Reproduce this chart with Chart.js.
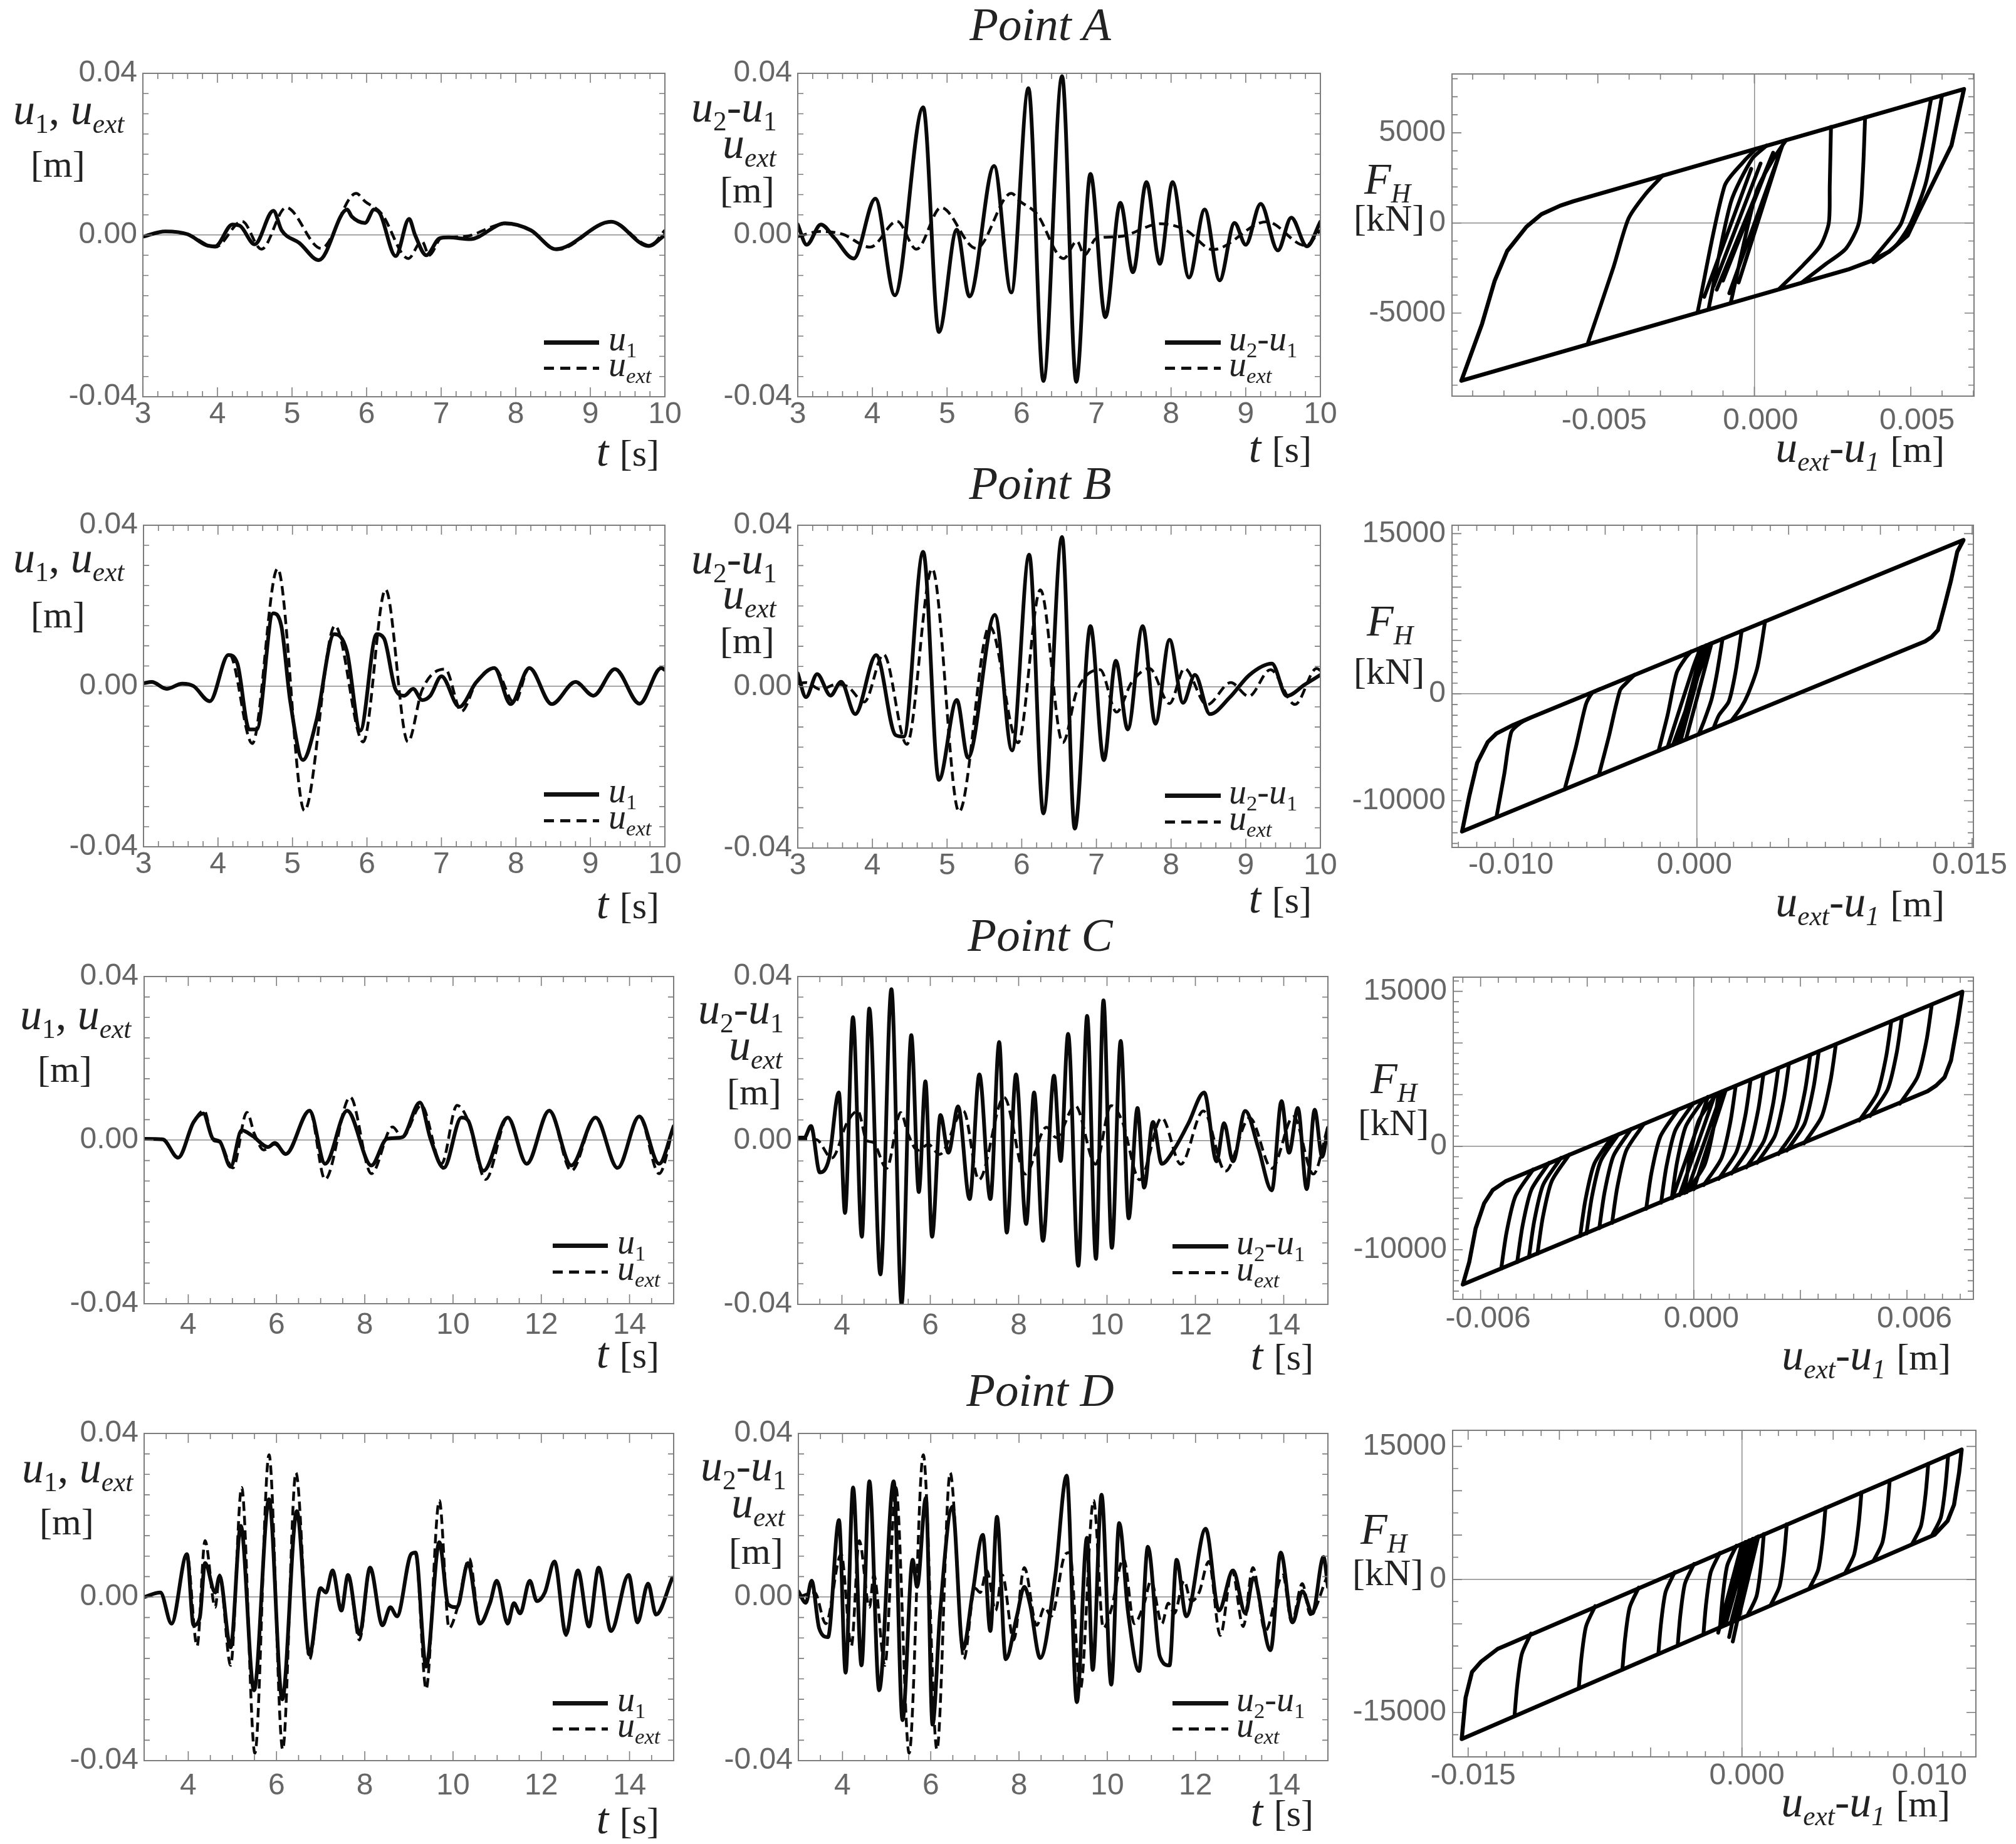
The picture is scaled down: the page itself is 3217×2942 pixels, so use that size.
<!DOCTYPE html>
<html>
<head>
<meta charset="utf-8">
<title>Points A-D</title>
<script src="https://cdn.jsdelivr.net/npm/chart.js@4.4.1/dist/chart.umd.min.js"></script>
<style>
html,body{margin:0;padding:0;background:#fff;}
#root{position:relative;width:3217px;height:2942px;overflow:hidden;background:#fff;}
.pc{position:absolute;}
.tx{position:absolute;font-family:"Liberation Serif","Times New Roman",serif;color:#222;line-height:1;white-space:nowrap;font-size:70px;z-index:5;}
.tx i{font-style:italic;}
.sb{font-size:0.62em;position:relative;top:0.32em;}
.un{font-size:0.857em;}
.u60{font-size:60px;}
.ttl{font-size:75px;font-style:italic;text-align:center;width:600px;}
.lg{font-size:56px;}
.ln{position:absolute;z-index:5;}
</style>
</head>
<body>
<div id="root"></div>
<script>
// ---------------- DATA ----------------
// tick labels
const TICKS_T_AB = [3,4,5,6,7,8,9,10];
const TICKS_T_CD = [4,6,8,10,12,14];
const TICKS_U = [-0.04, 0, 0.04];
const TICKS_XA = [-0.005, 0, 0.005];
const TICKS_FA = [-5000, 0, 5000];
const TICKS_XB = [-0.01, 0, 0.015];
const TICKS_FB = [-10000, 0, 15000];
const TICKS_XC = [-0.006, 0, 0.006];
const TICKS_FC = [-10000, 0, 15000];
const TICKS_XD = [-0.015, 0, 0.01];
const TICKS_FD = [-15000, 0, 15000];

// Point A  [t (s), displacement (m)]
const A_u1 = [[3,-0.0004],[3.3,0.0009],[3.6,0.0002],[3.85,-0.0025],[3.97,-0.0028],[4.2,0.0026],[4.3,0.0023],[4.5,-0.0023],[4.75,0.006],[4.86,0.0012],[5.1,-0.002],[5.36,-0.0062],[5.74,0.0063],[5.8,0.0046],[5.98,0.003],[6.1,0.0063],[6.18,0.0053],[6.39,-0.0052],[6.57,0.004],[6.65,0.0],[6.8,-0.005],[6.98,-0.0008],[7.1,-0.0006],[7.39,-0.001],[7.86,0.0029],[8.2,0.0012],[8.54,-0.0035],[9.28,0.0033],[9.78,-0.0027],[10,0.0]];
const A_uext = [[3,-0.0004],[3.3,0.0009],[3.6,0.0002],[3.97,-0.003],[4.33,0.0034],[4.59,-0.0035],[4.92,0.0068],[5.39,-0.0033],[5.86,0.0103],[5.98,0.0083],[6.2,0.0053],[6.56,-0.0058],[6.74,-0.0015],[6.84,-0.005],[7.0,-0.0008],[7.3,-0.0004],[7.86,0.0028],[8.2,0.0012],[8.56,-0.0036],[9.28,0.0033],[9.8,-0.0026],[10,0.0012]];
const A_u21 = [[3,0.0026],[3.12,-0.0024],[3.31,0.0026],[3.49,-0.0007],[3.75,-0.0058],[4.04,0.009],[4.3,-0.0149],[4.68,0.0316],[4.89,-0.024],[5.13,0.0013],[5.3,-0.0152],[5.63,0.0171],[5.86,-0.0142],[6.09,0.0363],[6.29,-0.0361],[6.54,0.0393],[6.73,-0.0363],[6.92,0.0151],[7.12,-0.0203],[7.32,0.008],[7.49,-0.0092],[7.67,0.0131],[7.85,-0.0071],[8.02,0.0131],[8.24,-0.0105],[8.45,0.0063],[8.65,-0.0112],[8.85,0.003],[9.0,-0.0024],[9.2,0.0077],[9.43,-0.0038],[9.61,0.0043],[9.82,-0.0028],[10,0.0033]];

// Point B
const B_u1 = [[3,0.0007],[3.11,0.001],[3.31,-0.0007],[3.52,0.0006],[3.67,0],[3.89,-0.0038],[4.14,0.0077],[4.26,0.0056],[4.42,-0.0108],[4.52,-0.0108],[4.74,0.0181],[4.85,0.015],[4.97,-0.0038],[5.14,-0.0184],[5.32,-0.0087],[5.56,0.0129],[5.73,0.0087],[5.91,-0.0111],[6.13,0.0129],[6.23,0.0118],[6.38,-0.0007],[6.5,-0.0024],[6.62,-0.0007],[6.74,-0.0035],[6.85,-0.0024],[7.0,0.0024],[7.24,-0.0052],[7.47,0.001],[7.71,0.0045],[7.93,-0.0045],[8.18,0.0045],[8.48,-0.0045],[8.8,0.001],[9.04,-0.0024],[9.33,0.0042],[9.66,-0.0044],[9.95,0.0045],[10,0.004]];
const B_uext = [[3,0.0007],[3.11,0.001],[3.31,-0.0007],[3.52,0.0006],[3.67,0],[3.89,-0.0038],[4.15,0.008],[4.46,-0.0143],[4.8,0.0292],[5.16,-0.031],[5.57,0.015],[5.95,-0.0139],[6.25,0.024],[6.55,-0.0139],[6.74,-0.001],[7.05,0.0042],[7.27,-0.0063],[7.47,0.001],[7.71,0.0045],[7.98,-0.0042],[8.18,0.0045],[8.48,-0.0045],[8.8,0.001],[9.04,-0.0024],[9.33,0.0042],[9.66,-0.0044],[9.95,0.0045],[10,0.004]];
const B_u21 = [[3,0.0033],[3.11,-0.0026],[3.26,0.0031],[3.44,-0.0022],[3.58,0.0012],[3.77,-0.0068],[4.05,0.0078],[4.31,-0.012],[4.42,-0.0124],[4.68,0.0334],[4.89,-0.0231],[5.13,-0.0033],[5.28,-0.0176],[5.64,0.0178],[5.87,-0.0158],[6.1,0.0327],[6.29,-0.0314],[6.54,0.0371],[6.71,-0.0352],[6.92,0.015],[7.1,-0.0182],[7.26,0.0064],[7.42,-0.0106],[7.62,0.015],[7.79,-0.0092],[7.98,0.0116],[8.16,-0.004],[8.32,0.0029],[8.52,-0.0068],[8.79,-0.0026],[9.05,0.0029],[9.35,0.0057],[9.55,-0.0023],[9.79,0.0005],[10,0.0029]];

// Point C
const C_u1 = [[3,0.0003],[3.42,0.0002],[3.77,-0.0043],[4.12,0.0044],[4.34,0.0065],[4.56,0.0003],[4.71,-0.0003],[4.96,-0.0065],[5.21,0.0024],[5.46,0.001],[5.81,-0.0017],[5.96,-0.0007],[6.21,-0.0034],[6.75,0.0072],[7.1,-0.0058],[7.6,0.0072],[8.15,-0.0062],[8.5,0.0003],[8.85,0.0007],[9.25,0.0092],[9.49,0.0003],[9.79,-0.0068],[10.19,0.0055],[10.34,0.0048],[10.69,-0.0075],[11.24,0.0055],[11.67,-0.0058],[12.18,0.0072],[12.68,-0.0062],[13.23,0.0055],[13.73,-0.0068],[14.22,0.0058],[14.67,-0.0058],[15,0.0034]];
const C_uext = [[3,0.0003],[3.42,0.0002],[3.77,-0.0043],[4.12,0.0044],[4.36,0.0072],[4.56,0.0],[4.71,-0.0005],[5.01,-0.0068],[5.33,0.0068],[5.5,0.0015],[5.71,-0.0024],[5.96,-0.001],[6.21,-0.0034],[6.75,0.0072],[7.1,-0.0096],[7.67,0.0105],[8.15,-0.0082],[8.63,0.0032],[8.85,0.0007],[9.28,0.0085],[9.74,-0.0058],[10.09,0.0085],[10.34,0.0048],[10.74,-0.0096],[11.24,0.0055],[11.67,-0.0058],[12.18,0.0072],[12.68,-0.0075],[13.23,0.0055],[13.73,-0.0068],[14.22,0.0058],[14.67,-0.0082],[15,0.0034]];
const C_u21 = [[3,0.0007],[3.15,0.0007],[3.3,0.0035],[3.5,-0.0078],[3.71,-0.0044],[3.93,0.0117],[4.07,-0.0177],[4.25,0.0301],[4.45,-0.0235],[4.62,0.0322],[4.87,-0.0327],[5.12,0.0369],[5.35,-0.0399],[5.57,0.0257],[5.74,-0.0126],[5.89,0.0144],[6.04,-0.0235],[6.23,0.0062],[6.41,-0.003],[6.63,0.0083],[6.89,-0.0143],[7.11,0.0161],[7.36,-0.0143],[7.56,0.024],[7.73,-0.0225],[7.94,0.0161],[8.17,-0.0204],[8.35,0.0117],[8.55,-0.0245],[8.8,0.0158],[8.95,-0.005],[9.12,0.026],[9.35,-0.0306],[9.55,0.0304],[9.75,-0.0289],[9.92,0.0342],[10.11,-0.0262],[10.31,0.0243],[10.49,-0.019],[10.69,0.0079],[10.84,-0.0115],[11.04,0.0045],[11.24,-0.0057],[11.49,-0.0027],[11.84,0.0041],[12.2,0.0117],[12.48,-0.0051],[12.65,0.0042],[12.85,-0.0051],[13.13,0.0072],[13.43,-0.002],[13.73,-0.0122],[13.95,0.0096],[14.12,-0.003],[14.32,0.0079],[14.52,-0.0119],[14.7,0.0075],[14.87,-0.004],[15,0.0031]];

// Point D
const D_u1 = [[3,0],[3.37,0.0011],[3.62,-0.0065],[3.97,0.0105],[4.12,-0.0069],[4.26,-0.0051],[4.38,0.0083],[4.61,0.0011],[4.71,0.0051],[4.96,-0.0123],[5.19,0.0174],[5.49,-0.0228],[5.83,0.0239],[6.13,-0.025],[6.46,0.021],[6.75,-0.0141],[7.0,0.0022],[7.12,0.0011],[7.27,0.0065],[7.47,-0.0033],[7.62,0.0054],[7.88,-0.0091],[8.12,0.0072],[8.4,-0.0069],[8.58,-0.0025],[8.73,-0.0047],[9.05,0.0105],[9.15,0.0109],[9.39,-0.017],[9.69,0.0134],[9.89,-0.0018],[10.09,-0.0025],[10.34,0.0083],[10.61,-0.0065],[10.84,-0.0014],[10.99,0.004],[11.24,-0.0065],[11.38,-0.0015],[11.52,-0.004],[11.74,0.004],[11.9,-0.001],[12.08,0.0011],[12.3,0.0087],[12.56,-0.0091],[12.83,0.0065],[13.08,-0.0072],[13.3,0.0072],[13.58,-0.0083],[13.98,0.0054],[14.18,-0.0062],[14.42,0.0033],[14.6,-0.0043],[14.97,0.0047]];
const D_uext = [[3,0],[3.37,0.0011],[3.62,-0.0065],[3.97,0.0105],[4.2,-0.012],[4.38,0.0138],[4.61,-0.0025],[4.71,0.0054],[4.96,-0.0167],[5.21,0.0268],[5.51,-0.0382],[5.83,0.0348],[6.14,-0.0373],[6.44,0.0304],[6.75,-0.0152],[7.0,0.0022],[7.12,0.0011],[7.27,0.0065],[7.47,-0.0033],[7.62,0.0054],[7.88,-0.0105],[8.12,0.0072],[8.4,-0.0069],[8.58,-0.0025],[8.73,-0.0047],[9.05,0.0105],[9.15,0.0109],[9.39,-0.0225],[9.69,0.0236],[9.91,-0.0076],[10.09,-0.003],[10.37,0.0094],[10.61,-0.0065],[10.84,-0.0014],[10.99,0.004],[11.24,-0.0065],[11.38,-0.0015],[11.52,-0.004],[11.74,0.004],[11.9,-0.001],[12.08,0.0011],[12.3,0.0087],[12.56,-0.0094],[12.83,0.0065],[13.08,-0.0072],[13.3,0.0072],[13.58,-0.0083],[13.98,0.0054],[14.18,-0.0062],[14.42,0.0033],[14.6,-0.0043],[14.97,0.0047]];
const D_u21 = [[3,0.0014],[3.17,-0.0014],[3.3,0.004],[3.47,-0.0076],[3.67,-0.0098],[3.92,0.0188],[4.07,-0.0185],[4.24,0.0268],[4.43,-0.0167],[4.61,0.0283],[4.83,-0.0228],[5.16,0.0283],[5.36,-0.0301],[5.59,0.0091],[5.69,0.0025],[5.89,0.0243],[6.04,-0.0312],[6.21,-0.004],[6.49,0.0221],[6.73,-0.0127],[6.95,0.0011],[7.18,0.0152],[7.35,-0.0083],[7.5,0.0196],[7.7,-0.0152],[7.95,-0.0047],[8.12,0.0025],[8.25,-0.0018],[8.48,-0.0149],[8.82,0.0051],[9.08,0.0297],[9.31,-0.0257],[9.54,0.0145],[9.67,-0.0178],[9.87,0.025],[10.09,-0.0214],[10.27,0.0181],[10.47,-0.0036],[10.72,-0.0181],[10.92,0.0123],[11.19,-0.0145],[11.41,-0.0167],[11.57,0.0091],[11.79,-0.0047],[12.23,0.0167],[12.53,-0.0033],[12.85,0.0065],[13.13,-0.004],[13.31,0.0047],[13.7,-0.013],[13.93,0.0109],[14.2,-0.0062],[14.42,0.0014],[14.65,-0.004],[14.9,0.0098],[15,0.0025]];

// Hysteresis  [u_ext-u1 (m), F_H (kN)], null = pen up
const A_loop = [[-0.00936,-8750],[-0.0087,-5600],[-0.0083,-3229],[-0.0079,-1562],[-0.00728,-208],[-0.0068,486],[-0.0062,960],[-0.00578,1200],[0.0067,7430],[0.0063,4300],[0.00524,556],[0.0049,-700],[0.0043,-1600],[0.00374,-2100],[0.003,-2580],[-0.00936,-8750]];
const A_inner = [
 [-0.00531,-6620],[-0.0045,-2450],[-0.00402,243],[-0.00348,1597],[-0.00292,2640], null,
 [-0.00181,-4930],[-0.00095,2051],[-0.00034,3408],[0.00007,4130], null,
 [-0.00146,-4750],[-0.00075,1146],[-0.00007,3559],[0.0004,4300], null,
 [-0.00075,-4400],[0.00007,1750],[0.00061,3559],[0.00102,4600], null,
 [-0.0012,-3700],[0.0006,3900], null,
 [-0.0008,-3900],[0.0009,4300], null,
 [-0.001,-3200],[0.0004,3000], null,
 [-0.0005,-3300],[0.0008,3800], null,
 [-0.0013,-3500],[0.0002,3300], null,
 [-0.0016,-4100],[-0.0001,3000], null,
 [0.00245,5330],[0.00241,2050],[0.00238,0],[0.00211,-1267],[0.00157,-2322],[0.0008,-3650], null,
 [0.00354,5860],[0.00347,2805],[0.00334,0],[0.00293,-1418],[0.00225,-2322],[0.0015,-3330], null,
 [0.00565,6900],[0.00525,3257],[0.0047,0],[0.00429,-965],[0.00374,-2100], null,
 [0.006,7080],[0.0055,2350],[0.005,0],[0.0045,-1300],[0.0038,-2180]
];
const B_loop = [[-0.0128,-12880],[-0.0124,-9500],[-0.01198,-6466],[-0.0114,-4503],[-0.01093,-3717],[-0.01,-2900],[-0.00907,-2224],[0.01453,14400],[0.01419,13298],[0.01384,10550],[0.01349,8194],[0.01314,5969],[0.01279,5314],[0.01244,4921],[-0.0128,-12880]];
const B_inner = [
 [-0.01093,-11560],[-0.0105,-7500],[-0.01012,-3586],[-0.0096,-2700],[-0.009,-2175], null,
 [-0.00721,-8940],[-0.0066,-5000],[-0.00605,-969],[-0.0057,100],[-0.0053,441], null,
 [-0.00535,-7628],[-0.0048,-4000],[-0.00419,340],[-0.0038,1100],[-0.0034,1784], null,
 [-0.00209,-5330],[-0.0016,-2000],[-0.0011,2000],[-0.0006,3400],[-0.0003,3976], null,
 [-0.0013,-4773],[0.0007,4683], null,
 [-0.0009,-4490],[0.0005,4540], null,
 [-0.0006,-4279],[0.0008,4754], null,
 [-0.0011,-4632],[0.0003,4400], null,
 [-0.0016,-4984],[-0.0002,2500],[0.0002,4329], null,
 [0.00372,6818],[0.0033,2500],[0.00279,0],[0.0024,-1300],[0.00186,-2545], null,
 [0.00244,5913],[0.0021,2000],[0.00174,-707],[0.0012,-2000],[0.0009,-3221], null,
 [0.0014,5178],[0.0011,2000],[0.0008,-500],[0.0004,-2500],[0.0001,-3786]
];
const C_loop = [[-0.0065,-13360],[-0.00632,-11192],[-0.00614,-7940],[-0.0059,-5500],[-0.00566,-4228],[-0.0053,-3388],[0.00756,14959],[0.00742,11843],[0.00724,8320],[0.00706,6694],[0.00682,5881],[0.00658,5339],[-0.0065,-13360]];
const C_inner = [
 [-0.00542,-11829],[-0.00527,-8329],[-0.00502,-4829],[-0.00452,-2229], null,
 [-0.00497,-11191],[-0.00482,-7691],[-0.00457,-4191],[-0.00407,-1591], null,
 [-0.00464,-10723],[-0.00449,-7223],[-0.00424,-3723],[-0.00374,-1123], null,
 [-0.0044,-10383],[-0.00425,-6883],[-0.004,-3383],[-0.0035,-783], null,
 [-0.0032,-8682],[-0.00305,-5182],[-0.0028,-1682],[-0.0023,918], null,
 [-0.00302,-8427],[-0.00287,-4927],[-0.00262,-1427],[-0.00212,1173], null,
 [-0.00266,-7917],[-0.00251,-4417],[-0.00226,-917],[-0.00176,1683], null,
 [-0.0023,-7406],[-0.00215,-3906],[-0.0019,-406],[-0.0014,2194], null,
 [-0.00134,-6045],[-0.00119,-2545],[-0.00094,955],[-0.00044,3555], null,
 [-0.00092,-5450],[-0.00077,-1950],[-0.00052,1550],[-0.00002,4150], null,
 [-0.00062,-5025],[-0.00047,-1525],[-0.00022,1975],[0.00028,4575], null,
 [-0.00026,-4515],[-0.00011,-1015],[0.00014,2485],[0.00064,5085], null,
 [0.0007,5172],[0.00055,1672],[0.0003,-1828],[-0.0002,-4428], null,
 [0.00118,5857],[0.00103,2357],[0.00078,-1143],[0.00028,-3743], null,
 [0.0016,6456],[0.00145,2956],[0.0012,-544],[0.0007,-3144], null,
 [0.00196,6970],[0.00181,3470],[0.00156,-30],[0.00106,-2630], null,
 [0.00238,7569],[0.00223,4069],[0.00198,569],[0.00148,-2031], null,
 [0.00268,7997],[0.00253,4497],[0.00228,997],[0.00178,-1603], null,
 [0.00328,8854],[0.00313,5354],[0.00288,1854],[0.00238,-746], null,
 [0.00352,9196],[0.00337,5696],[0.00312,2196],[0.00262,-404], null,
 [0.004,9881],[0.00385,6381],[0.0036,2881],[0.0031,281], null,
 [0.00556,12107],[0.00541,8607],[0.00516,5107],[0.00466,2507], null,
 [0.00586,12535],[0.00571,9035],[0.00546,5535],[0.00496,2935], null,
 [0.0067,13734],[0.00655,10234],[0.0063,6734],[0.0058,4134], null,
 [-0.0004,-4713],[0.0006,5029], null,
 [0.0,-4146],[0.0009,5457], null,
 [-0.0002,-4430],[0.0008,5315], null,
 [-0.0006,-5000],[0.0004,4800]
];
const D_loop = [[-0.01535,-17980],[-0.01514,-13340],[-0.01479,-10440],[-0.0143,-9280],[-0.01338,-7830],[0.01204,14645],[0.0119,12035],[0.01162,8410],[0.01127,6600],[0.01056,5054],[-0.01535,-17980]];
const D_inner = [
 [-0.01246,-15411],[-0.01231,-11911],[-0.01206,-8411],[-0.01156,-6100], null,
 [-0.00894,-12282],[-0.00879,-8782],[-0.00854,-5282],[-0.00804,-3007], null,
 [-0.00655,-10157],[-0.0064,-6657],[-0.00615,-3157],[-0.00565,-906], null,
 [-0.00458,-8406],[-0.00443,-4906],[-0.00418,-1406],[-0.00368,825], null,
 [-0.00352,-7463],[-0.00337,-3963],[-0.00312,-463],[-0.00262,1757], null,
 [-0.00211,-6210],[-0.00196,-2710],[-0.00171,790],[-0.00121,2996], null,
 [-0.0012,-5401],[-0.00105,-1901],[-0.0008,1599],[-0.0003,3796], null,
 [-0.0009,-5134],[0.0004,4412], null,
 [-0.0006,-4867],[0.0006,4587], null,
 [-0.0004,-4690],[0.0008,4763], null,
 [-0.0011,-5312],[0.0002,4236], null,
 [-0.0002,-4512],[0.0009,4851], null,
 [-0.0007,-6500],[0.0003,3000], null,
 [-0.0013,-6000],[0.0,4000], null,
 [-0.0005,-7000],[0.0005,2500], null,
 [0.0012,5115],[0.00105,1615],[0.0008,-1885],[0.0003,-4067], null,
 [0.00246,6222],[0.00231,2722],[0.00206,-778],[0.00156,-2947], null,
 [0.00458,8086],[0.00443,4586],[0.00418,1086],[0.00368,-1063], null,
 [0.00655,9818],[0.0064,6318],[0.00615,2818],[0.00565,689], null,
 [0.0081,11180],[0.00795,7680],[0.0077,4180],[0.0072,2067], null,
 [0.01021,13035],[0.01006,9535],[0.00981,6035],[0.00931,3943], null,
 [0.0113,13993],[0.01115,10493],[0.0109,6993],[0.0104,4912]
];

// ---------------- LAYOUT / STYLE ----------------
const PADL = 260, PADR = 90, PADT = 40, PADB = 90;
const root = document.getElementById('root');
const TICK_FONT = {family: '"Liberation Sans", Arial, Helvetica, sans-serif', size: 48};

const toXY = arr => arr.map(p => p ? {x: p[0], y: p[1]} : {x: null, y: null});

const frameTicks = {
  id: 'frameTicks',
  afterDatasetsDraw(chart, args, o) {
    const {ctx, chartArea: a} = chart;
    const xs = chart.scales.x, ys = chart.scales.y;
    ctx.save();
    ctx.strokeStyle = '#7d7d7d';
    ctx.lineWidth = 2;
    ctx.strokeRect(a.left, a.top, a.right - a.left, a.bottom - a.top);
    ctx.lineWidth = 1.6;
    const drawSet = (scale, step, major, horiz) => {
      const k0 = Math.ceil(scale.min / step - 1e-6), k1 = Math.floor(scale.max / step + 1e-6);
      for (let k = k0; k <= k1; k++) {
        const v = k * step;
        const r = v / major;
        const isMaj = Math.abs(r - Math.round(r)) < 1e-6;
        const len = isMaj ? 15 : 9;
        const p = scale.getPixelForValue(v);
        ctx.beginPath();
        if (horiz) {
          ctx.moveTo(p, a.bottom); ctx.lineTo(p, a.bottom - len);
          ctx.moveTo(p, a.top); ctx.lineTo(p, a.top + len);
        } else {
          ctx.moveTo(a.left, p); ctx.lineTo(a.left + len, p);
          ctx.moveTo(a.right, p); ctx.lineTo(a.right - len, p);
        }
        ctx.stroke();
      }
    };
    drawSet(xs, o.xStep, o.xMajor, true);
    drawSet(ys, o.yStep, o.yMajor, false);
    ctx.restore();
  }
};

function axis(o, isX) {
  return {
    type: 'linear', min: o.min, max: o.max, position: isX ? 'bottom' : 'left',
    afterFit: s => { if (isX) s.height = PADB; else s.width = PADL; },
    afterBuildTicks: s => { s.ticks = o.labels.map(v => ({value: v})); },
    border: {display: false},
    grid: {display: !!o.zero, drawTicks: false, lineWidth: 1.5,
      color: c => (c.tick && Math.abs(c.tick.value) < 1e-12) ? '#8c8c8c' : 'rgba(0,0,0,0)'},
    ticks: {
      autoSkip: false, maxRotation: 0, minRotation: 0,
      padding: o.pad, labelOffset: o.lo || 0, color: '#666', font: TICK_FONT,
      callback: v => o.fmt(v)
    }
  };
}

function makePanel(box, xo, yo, datasets, fr) {
  const W = box.R - box.L + PADL + PADR, H = box.B - box.T + PADT + PADB;
  const wrap = document.createElement('div');
  wrap.className = 'pc';
  wrap.style.left = (box.L - PADL) + 'px';
  wrap.style.top = (box.T - PADT) + 'px';
  wrap.style.width = W + 'px';
  wrap.style.height = H + 'px';
  const cv = document.createElement('canvas');
  cv.width = W; cv.height = H;
  cv.style.width = W + 'px'; cv.style.height = H + 'px';
  wrap.appendChild(cv);
  root.appendChild(wrap);
  new Chart(cv, {
    type: 'line',
    data: {datasets},
    options: {
      responsive: false, animation: false, devicePixelRatio: 1,
      layout: {padding: {top: PADT, right: PADR, left: 0, bottom: 0}},
      events: [],
      plugins: {legend: {display: false}, tooltip: {enabled: false}, frameTicks: fr},
      elements: {point: {radius: 0}},
      scales: {x: axis(xo, true), y: axis(yo, false)}
    },
    plugins: [frameTicks]
  });
}

const fmtInt = v => String(Math.round(v));
const fmt2 = v => (Math.abs(v) < 1e-12 ? 0 : v).toFixed(2);
const fmt3 = v => (Math.abs(v) < 1e-12 ? 0 : v).toFixed(3);

function solid(arr) {
  return {data: toXY(arr), borderColor: '#0a0a0a', borderWidth: 6, cubicInterpolationMode: 'monotone', pointRadius: 0, fill: false, borderJoinStyle: 'round', borderCapStyle: 'round'};
}
function dashed(arr) {
  return {data: toXY(arr), borderColor: '#0a0a0a', borderWidth: 4.5, borderDash: [15, 8], cubicInterpolationMode: 'monotone', pointRadius: 0, fill: false};
}
function hloop(arr) {
  return {data: toXY(arr), borderColor: '#000', borderWidth: 6.5, tension: 0, pointRadius: 0, fill: false, spanGaps: false, borderJoinStyle: 'round', borderCapStyle: 'round'};
}
function hinner(arr) {
  return {data: toXY(arr), borderColor: '#000', borderWidth: 6, tension: 0.25, pointRadius: 0, fill: false, spanGaps: false, borderJoinStyle: 'round', borderCapStyle: 'round'};
}

const FR_T_AB = {xStep: 0.2, xMajor: 1, yStep: 0.005, yMajor: 0.04};
const FR_T_CD = {xStep: 0.5, xMajor: 2, yStep: 0.005, yMajor: 0.04};
const yU = () => ({min: -0.04, max: 0.04, labels: TICKS_U, fmt: fmt2, pad: 9, zero: true});
const xT_AB = pad => ({min: 3, max: 10, labels: TICKS_T_AB, fmt: fmtInt, pad: pad});
const xT_CD = pad => ({min: 3, max: 15, labels: TICKS_T_CD, fmt: fmtInt, pad: pad});

const ROWS = {
  A: {c1: {L:228,T:117,R:1061,B:633}, c2: {L:1273,T:117,R:2107,B:633}, c3: {L:2317,T:118,R:3150,B:632}},
  B: {c1: {L:229,T:838,R:1061,B:1351}, c2: {L:1273,T:838,R:2107,B:1353}, c3: {L:2317,T:838,R:3149,B:1352}},
  C: {c1: {L:230,T:1558,R:1075,B:2080}, c2: {L:1273,T:1558,R:2119,B:2081}, c3: {L:2319,T:1559,R:3149,B:2073}},
  D: {c1: {L:230,T:2287,R:1075,B:2809}, c2: {L:1274,T:2287,R:2119,B:2809}, c3: {L:2318,T:2282,R:3153,B:2803}}
};

// Point A
makePanel(ROWS.A.c1, xT_AB(0), yU(), [solid(A_u1), dashed(A_uext)], FR_T_AB);
makePanel(ROWS.A.c2, xT_AB(0), yU(), [solid(A_u21), dashed(A_uext)], FR_T_AB);
makePanel(ROWS.A.c3,
  {min: -0.00966, max: 0.00702, labels: TICKS_XA, fmt: fmt3, pad: 11, lo: 10, zero: true},
  {min: -9606, max: 8265, labels: TICKS_FA, fmt: fmtInt, pad: 10, zero: true},
  [hloop(A_loop), hinner(A_inner)], {xStep: 0.001, xMajor: 0.005, yStep: 1000, yMajor: 5000});
// Point B
makePanel(ROWS.B.c1, xT_AB(0), yU(), [solid(B_u1), dashed(B_uext)], FR_T_AB);
makePanel(ROWS.B.c2, xT_AB(0), yU(), [solid(B_u21), dashed(B_uext)], FR_T_AB);
makePanel(ROWS.B.c3,
  {min: -0.01335, max: 0.01507, labels: TICKS_XB, fmt: fmt3, pad: 0, lo: -4, zero: true},
  {min: -14372, max: 15785, labels: TICKS_FB, fmt: fmtInt, pad: 10, zero: true},
  [hloop(B_loop), hinner(B_inner)], {xStep: 0.001, xMajor: 0.005, yStep: 1000, yMajor: 5000});
// Point C
makePanel(ROWS.C.c1, xT_CD(6), yU(), [solid(C_u1), dashed(C_uext)], FR_T_CD);
makePanel(ROWS.C.c2, xT_CD(6), yU(), [solid(C_u21), dashed(C_uext)], FR_T_CD);
makePanel(ROWS.C.c3,
  {min: -0.00677, max: 0.00787, labels: TICKS_XC, fmt: fmt3, pad: 3, lo: 12, zero: true},
  {min: -14797, max: 16370, labels: TICKS_FC, fmt: fmtInt, pad: 10, zero: true},
  [hloop(C_loop), hinner(C_inner)], {xStep: 0.0005, xMajor: 0.003, yStep: 1000, yMajor: 5000});
// Point D
makePanel(ROWS.D.c1, xT_CD(12), yU(), [solid(D_u1), dashed(D_uext)], FR_T_CD);
makePanel(ROWS.D.c2, xT_CD(12), yU(), [solid(D_u21), dashed(D_uext)], FR_T_CD);
makePanel(ROWS.D.c3,
  {min: -0.01585, max: 0.01282, labels: TICKS_XD, fmt: fmt3, pad: 2, lo: 8, zero: true},
  {min: -20000, max: 16811, labels: TICKS_FD, fmt: fmtInt, pad: 10, zero: true},
  [hloop(D_loop), hinner(D_inner)], {xStep: 0.001, xMajor: 0.005, yStep: 2500, yMajor: 5000});

// ---------------- TEXT ----------------
function txt(html, x, y, cls, alignRight) {
  const d = document.createElement('div');
  d.className = 'tx ' + (cls || '');
  d.innerHTML = html;
  if (alignRight) d.style.right = (3217 - x) + 'px'; else d.style.left = x + 'px';
  d.style.top = y + 'px';
  root.appendChild(d);
}
function legLine(x1, x2, y, isDashed) {
  const d = document.createElement('div');
  d.className = 'ln';
  d.style.left = x1 + 'px';
  d.style.width = (x2 - x1) + 'px';
  if (!isDashed) { d.style.top = (y - 3.5) + 'px'; d.style.height = '7px'; d.style.background = '#111'; }
  else { d.style.top = (y - 2.5) + 'px'; d.style.height = '5px'; d.style.background = 'repeating-linear-gradient(90deg,#111 0 16px,rgba(0,0,0,0) 16px 26px)'; }
  root.appendChild(d);
}

const U1 = '<i>u</i><span class="sb">1</span>';
const UEXT = '<i>u</i><span class="sb"><i>ext</i></span>';
const U21 = '<i>u</i><span class="sb">2</span>-<i>u</i><span class="sb">1</span>';
const FH = '<i>F</i><span class="sb"><i>H</i></span>';
const TS = '<i>t</i> <span class="un">[s]</span>';
const XH = '<i>u</i><span class="sb"><i>ext</i></span>-<i>u</i><span class="sb"><i>1</i></span> <span class="un">[m]</span>';

// titles
[['Point A', 1], ['Point B', 733], ['Point C', 1454], ['Point D', 2180]].forEach(([t, y]) => {
  const d = document.createElement('div');
  d.className = 'tx ttl';
  d.textContent = t;
  d.style.left = (1660 - 300) + 'px';
  d.style.top = y + 'px';
  root.appendChild(d);
});

// column 1 axis labels
[[21,140,49,232],[21,855,49,951],[32,1584,60,1676],[35,2307,63,2398]].forEach(([x1,y1,x2,y2]) => {
  txt(U1 + ', ' + UEXT, x1, y1);
  txt('[m]', x2, y2, 'u60');
});
// column 2 axis labels
[[1103,136,1153,194,1149,273],[1103,857,1153,913,1149,992],[1114,1575,1163,1633,1160,1712],[1118,2304,1167,2363,1163,2445]].forEach(([a,b,c,d,e,f]) => {
  txt(U21, a, b);
  txt(UEXT, c, d);
  txt('[m]', e, f, 'u60');
});
// column 3 axis labels
[[2177,251,2160,318],[2181,956,2160,1041],[2187,1686,2167,1761],[2171,2405,2158,2479]].forEach(([a,b,c,d]) => {
  txt(FH, a, b);
  txt('[kN]', c, d, 'u60');
});
// x axis titles
[[1052,685],[1052,1407],[1052,2124],[1052,2867]].forEach(([r,t]) => txt(TS, r, t, '', true));
[[2093,679],[2093,1398],[2096,2127],[2096,2855]].forEach(([r,t]) => txt(TS, r, t, '', true));
[[3103,679],[3103,1404],[3113,2127],[3112,2840]].forEach(([r,t]) => txt(XH, r, t, '', true));

// legends
const LEGY = {A: [87, 46], B: [84, 42], C: [93, 51], D: [92, 51]};
['A','B','C','D'].forEach(k => {
  const [s, dsh] = LEGY[k];
  const b1 = ROWS[k].c1, b2 = ROWS[k].c2;
  legLine(b1.R - 193, b1.R - 105, b1.B - s, false);
  legLine(b1.R - 193, b1.R - 105, b1.B - dsh, true);
  txt(U1, b1.R - 90, b1.B - s - 34, 'lg');
  txt(UEXT, b1.R - 90, b1.B - dsh - 34, 'lg');
  legLine(b2.R - 248, b2.R - 159, b2.B - s, false);
  legLine(b2.R - 248, b2.R - 159, b2.B - dsh, true);
  txt(U21, b2.R - 146, b2.B - s - 34, 'lg');
  txt(UEXT, b2.R - 146, b2.B - dsh - 34, 'lg');
});
</script>
</body>
</html>
